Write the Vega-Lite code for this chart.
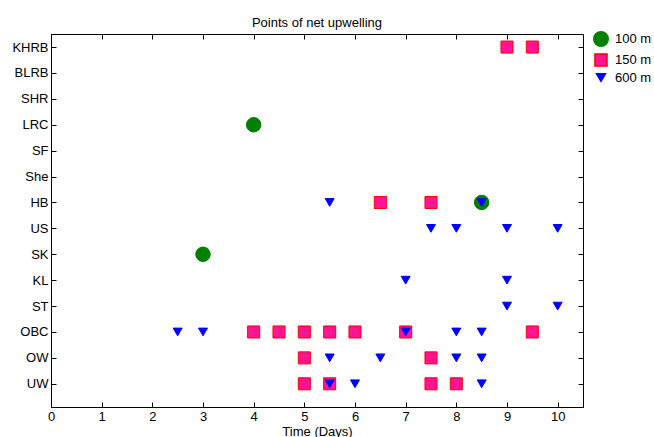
{
  "$schema": "https://vega.github.io/schema/vega-lite/v6.json",
  "width": 532,
  "height": 373,
  "autosize": "none",
  "padding": {"left": 51, "top": 34, "right": 71, "bottom": 30},
  "title": {"text": "Points of net upwelling", "fontSize": 13, "fontWeight": "normal", "font": "Liberation Sans", "color": "black", "offset": 1},
  "config": {
    "view": {"stroke": "black", "strokeWidth": 1},
    "axis": {"labelFont": "Liberation Sans", "titleFont": "Liberation Sans", "labelFontSize": 13, "titleFontSize": 13, "titleFontWeight": "normal", "labelColor": "black", "titleColor": "black", "domainColor": "black", "tickColor": "black", "grid": false},
    "legend": {"labelFont": "Liberation Sans", "labelFontSize": 13, "labelColor": "black"}
  },
  "data": {"values": [
    {"site": "LRC", "time": 4, "depth": "100 m"},
    {"site": "SK", "time": 3, "depth": "100 m"},
    {"site": "HB", "time": 8.5, "depth": "100 m"},
    {"site": "KHRB", "time": 9, "depth": "150 m"},
    {"site": "KHRB", "time": 9.5, "depth": "150 m"},
    {"site": "HB", "time": 6.5, "depth": "150 m"},
    {"site": "HB", "time": 7.5, "depth": "150 m"},
    {"site": "OBC", "time": 4, "depth": "150 m"},
    {"site": "OBC", "time": 4.5, "depth": "150 m"},
    {"site": "OBC", "time": 5, "depth": "150 m"},
    {"site": "OBC", "time": 5.5, "depth": "150 m"},
    {"site": "OBC", "time": 6, "depth": "150 m"},
    {"site": "OBC", "time": 7, "depth": "150 m"},
    {"site": "OBC", "time": 9.5, "depth": "150 m"},
    {"site": "OW", "time": 5, "depth": "150 m"},
    {"site": "OW", "time": 7.5, "depth": "150 m"},
    {"site": "UW", "time": 5, "depth": "150 m"},
    {"site": "UW", "time": 5.5, "depth": "150 m"},
    {"site": "UW", "time": 7.5, "depth": "150 m"},
    {"site": "UW", "time": 8, "depth": "150 m"},
    {"site": "HB", "time": 5.5, "depth": "600 m"},
    {"site": "HB", "time": 8.5, "depth": "600 m"},
    {"site": "US", "time": 7.5, "depth": "600 m"},
    {"site": "US", "time": 8, "depth": "600 m"},
    {"site": "US", "time": 9, "depth": "600 m"},
    {"site": "US", "time": 10, "depth": "600 m"},
    {"site": "KL", "time": 7, "depth": "600 m"},
    {"site": "KL", "time": 9, "depth": "600 m"},
    {"site": "ST", "time": 9, "depth": "600 m"},
    {"site": "ST", "time": 10, "depth": "600 m"},
    {"site": "OBC", "time": 2.5, "depth": "600 m"},
    {"site": "OBC", "time": 3, "depth": "600 m"},
    {"site": "OBC", "time": 7, "depth": "600 m"},
    {"site": "OBC", "time": 8, "depth": "600 m"},
    {"site": "OBC", "time": 8.5, "depth": "600 m"},
    {"site": "OW", "time": 5.5, "depth": "600 m"},
    {"site": "OW", "time": 6.5, "depth": "600 m"},
    {"site": "OW", "time": 8, "depth": "600 m"},
    {"site": "OW", "time": 8.5, "depth": "600 m"},
    {"site": "UW", "time": 5.5, "depth": "600 m"},
    {"site": "UW", "time": 6, "depth": "600 m"},
    {"site": "UW", "time": 8.5, "depth": "600 m"}
  ]},
  "layer": [
    {
      "mark": {"type": "point", "filled": true, "opacity": 1, "strokeWidth": 1},
      "encoding": {
        "x": {"field": "time", "type": "quantitative", "scale": {"domain": [0, 10.5], "nice": false, "zero": false},
              "axis": {"orient": "bottom", "values": [0,1,2,3,4,5,6,7,8,9,10], "tickSize": -5, "labelPadding": 8, "labelFlush": false, "title": "Time (Days)", "titlePadding": 2}},
        "y": {"field": "site", "type": "nominal",
              "scale": {"type": "point", "domain": ["KHRB","BLRB","SHR","LRC","SF","She","HB","US","SK","KL","ST","OBC","OW","UW"], "padding": 0.7, "align": 0.36},
              "axis": {"orient": "left", "tickSize": -5, "labelPadding": 8, "title": null}},
        "shape": {"field": "depth", "type": "nominal", "scale": {"domain": ["100 m","150 m","600 m"], "range": ["circle","square","triangle-down"]}, "legend": {"title": null}},
        "fill": {"field": "depth", "type": "nominal", "scale": {"domain": ["100 m","150 m","600 m"], "range": ["#008000","#ff1493","#0000ff"]}, "legend": {"title": null}},
        "stroke": {"field": "depth", "type": "nominal", "scale": {"domain": ["100 m","150 m","600 m"], "range": ["#008000","#ff0000","#0000ff"]}, "legend": {"title": null}},
        "size": {"field": "depth", "type": "nominal", "scale": {"domain": ["100 m","150 m","600 m"], "range": [210, 80, 90]}, "legend": {"title": null, "orient": "none", "legendX": 542, "legendY": -3, "padding": 0, "rowPadding": 0, "labelOffset": 6}}
      }
    },
    {
      "mark": {"type": "point", "opacity": 0},
      "encoding": {
        "x": {"field": "time", "type": "quantitative", "axis": {"orient": "top", "values": [0,1,2,3,4,5,6,7,8,9,10], "tickSize": -5, "labels": false, "title": null, "domain": false}},
        "y": {"field": "site", "type": "nominal", "axis": {"orient": "right", "tickSize": -5, "labels": false, "title": null, "domain": false}}
      }
    }
  ],
  "resolve": {"axis": {"x": "independent", "y": "independent"}}
}
